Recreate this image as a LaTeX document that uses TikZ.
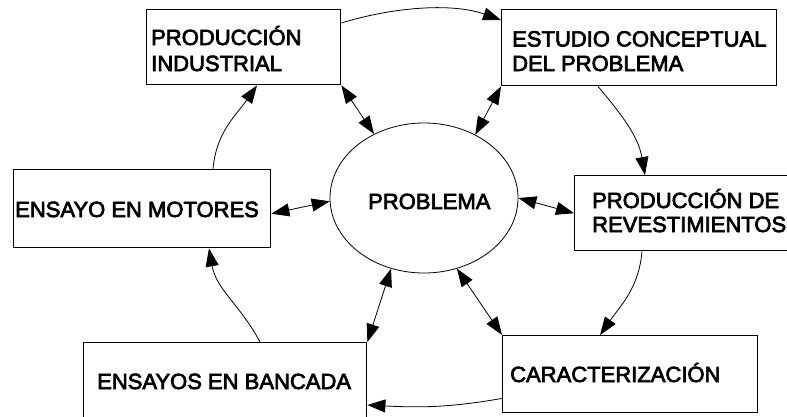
\documentclass[tikz,border=0pt]{standalone}
\usepackage{fontspec}
\newfontfamily\lblfont{Liberation Sans}
\newcommand\heavytext[1]{\special{pdf:literal direct 2 Tr 0.7 w}#1\special{pdf:literal direct 0 Tr}}
\usetikzlibrary{arrows.meta,calc,shapes.geometric}
\begin{document}
\begin{tikzpicture}[x=1pt,y=-1pt,
  box/.style={draw, line width=1.4pt, inner sep=0pt, anchor=north west},
  lbl/.style={anchor=base west, inner sep=0pt, font=\lblfont\fontsize{22}{26}\selectfont},
  con/.style={line width=0.8pt, -{Triangle[length=18pt,width=13pt]}},
  dbl/.style={line width=0.8pt, {Triangle[length=18pt,width=13pt]}-{Triangle[length=18pt,width=13pt]}},
]
\useasboundingbox (0,0) rectangle (787,416);
\clip (0,0) rectangle (787,416);
% boxes
\node[box, minimum width=194pt, minimum height=75pt] (pi) at (146,9) {};
\node[box, minimum width=275pt, minimum height=76pt] (ec) at (501,9) {};
\node[box, minimum width=257pt, minimum height=78pt] (em) at (13,169) {};
\node[box, minimum width=240pt, minimum height=75pt] (pr) at (574,175) {};
\node[box, minimum width=283pt, minimum height=100pt] (eb) at (83,342) {};
\node[box, minimum width=255pt, minimum height=77pt] (ca) at (502,335) {};
\node[draw, ellipse, line width=0.8pt, inner sep=0pt, minimum width=188pt, minimum height=150pt] (pb) at (424,198) {};
% labels
\node[lbl] (tpi1) at (151,45) {\heavytext{PRODUCCIÓN}};
\node[lbl] (tpi2) at (151,71) {\heavytext{INDUSTRIAL}};
\node[lbl] (tec1) at (512,46.5) {\heavytext{ESTUDIO CONCEPTUAL}};
\node[lbl] (tec2) at (512,71) {\heavytext{DEL PROBLEMA}};
\node[lbl] (tem) at (15,217) {\heavytext{ENSAYO EN MOTORES}};
\node[lbl] (tpr1) at (592,208) {\heavytext{PRODUCCIÓN DE}};
\node[lbl] (tpr2) at (592,232) {\heavytext{REVESTIMIENTOS}};
\node[lbl] (teb) at (97,389) {\heavytext{ENSAYOS EN BANCADA}};
\node[lbl] (tca) at (510,382) {\heavytext{CARACTERIZACIÓN}};
\node[lbl] (tpb) at (368,209) {\heavytext{PROBLEMA}};
% cycle arrows
\draw[con] ([yshift=-14pt]pi.north east) .. controls (390,8) and (450,2) .. ([yshift=-11pt]ec.north west);
\draw[con] ([xshift=97pt]ec.south west) to[out=-50,in=100] ([xshift=71pt]pr.north west);
\draw[con] ([xshift=68pt]pr.south west) to[out=-95,in=55] ([xshift=98pt]ca.north west);
\draw[con] ([yshift=15pt]ca.south west) to[out=190,in=-3] ([yshift=-63pt]eb.north east);
\draw[con] ([xshift=177pt]eb.north west) to[out=118,in=-80] ([xshift=196pt]em.south west);
\draw[con] ([xshift=200pt]em.north west) to[out=85,in=-125] ([xshift=111pt]pi.south west);
% double arrows
\draw[dbl] (pi.south east) -- (pb.128);
\draw[dbl] (ec.south west) -- (pb.51);
\draw[dbl] ([yshift=-5pt]em.east) -- (pb.182);
\draw[dbl] (pb.0) -- (pr.west);
\draw[dbl] (eb.north east) -- (pb.245);
\draw[dbl] (pb.295) -- (ca.north west);
\end{tikzpicture}
\end{document}
